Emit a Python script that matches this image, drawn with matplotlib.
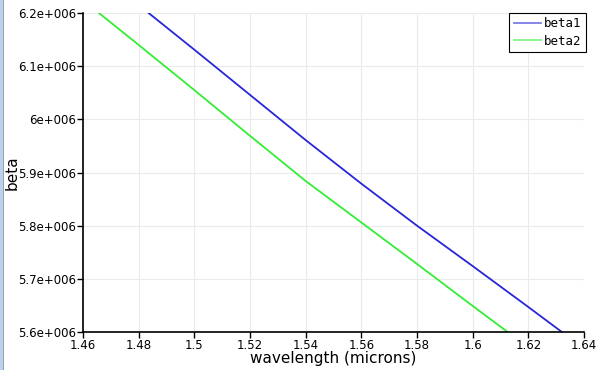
import matplotlib
matplotlib.use("Agg")
import matplotlib.pyplot as plt
from matplotlib.ticker import FuncFormatter, MultipleLocator
from matplotlib.patches import Rectangle

# wavelength samples (microns) and propagation constants
wavelength = [1.46, 1.48, 1.50, 1.52, 1.54, 1.56, 1.58, 1.60, 1.62, 1.64]
beta1 = [6.300e6, 6.215e6, 6.131e6, 6.046e6, 5.961e6, 5.879e6, 5.800e6, 5.724e6, 5.647e6, 5.569e6]
beta2 = [6.224e6, 6.140e6, 6.055e6, 5.969e6, 5.884e6, 5.806e6, 5.728e6, 5.649e6, 5.571e6, 5.492e6]
series_names = ["beta1", "beta2"]


def sci_fmt(v, pos):
    # mimic "6.2e+006" style labels
    m = v / 1e6
    s = ("%.1f" % m).rstrip("0").rstrip(".")
    return s + "e+006"


fig = plt.figure(figsize=(6.03, 3.70), dpi=100)
ax = fig.add_axes([83 / 603, 1 - 332 / 370, (584 - 83) / 603, (332 - 13) / 370])

ax.plot(wavelength, beta1, color="#2626d8", lw=1.3, label=series_names[0])
ax.plot(wavelength, beta2, color="#33ee33", lw=1.3, label=series_names[1])

ax.set_xlim(1.46, 1.64)
ax.set_ylim(5.6e6, 6.2e6)
ax.xaxis.set_major_locator(MultipleLocator(0.02))
ax.yaxis.set_major_locator(MultipleLocator(0.1e6))
ax.xaxis.set_major_formatter(FuncFormatter(lambda v, p: ("%.2f" % v).rstrip("0").rstrip(".")))
ax.yaxis.set_major_formatter(FuncFormatter(sci_fmt))

ax.grid(True, color="#ebebeb", lw=0.8)
ax.set_axisbelow(True)
for s in ["top", "right"]:
    ax.spines[s].set_visible(False)
for s in ["left", "bottom"]:
    ax.spines[s].set_linewidth(1.2)
ax.tick_params(direction="out", length=4, width=1, labelsize=8.5, pad=1)

ax.set_xlabel("wavelength (microns)", fontsize=11, labelpad=-1)
ax.set_ylabel("beta", fontsize=11, labelpad=-1.5)

leg = ax.legend(loc="upper right", bbox_to_anchor=(1.003, 1.0), fancybox=False,
                framealpha=1, edgecolor="black", borderaxespad=0,
                prop={"family": "DejaVu Sans Mono", "size": 9},
                handlelength=2.2, handletextpad=0.2, borderpad=0.35, labelspacing=0.35)
leg.get_frame().set_linewidth(0.8)
for h in leg.get_lines():
    h.set_alpha(0.6)

# window edge strip on the left
fig.patches.append(Rectangle((0, 0), 3 / 603, 1, transform=fig.transFigure,
                             facecolor="#bdd2ea", edgecolor="none"))
fig.patches.append(Rectangle((3 / 603, 0), 1 / 603, 1, transform=fig.transFigure,
                             facecolor="#8fa3bb", edgecolor="none"))

fig.savefig("out.png", dpi=100)
